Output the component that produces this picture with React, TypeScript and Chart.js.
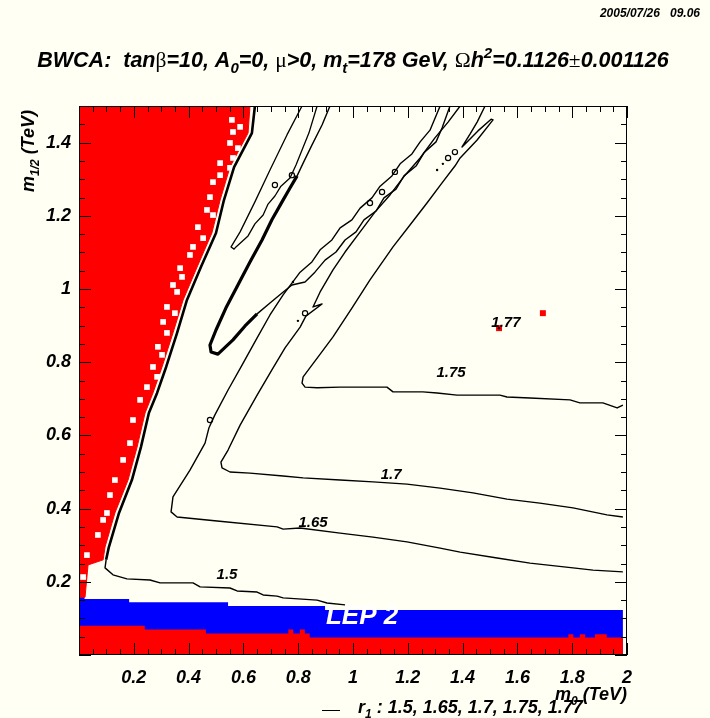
import { useEffect, useRef } from 'react';
import { Chart, registerables } from 'chart.js';

Chart.register(...registerables);

const PAPER = '#fffff3';
const RED = '#ff0000';
const BLUE = '#0000ff';
const INK = '#000000';
const SANS = '"Liberation Sans", Arial, Helvetica, sans-serif';
const SERIF = '"Liberation Serif", "Times New Roman", serif';

// Axis ranges (TeV)
const M0_RANGE = [0, 2];
const M12_RANGE = [0, 1.5];
const LABEL_STEP = 0.2;
const MINOR_STEP = 0.05;

// Excluded upper-left wedge (charged LSP): right edge of the region
const WEDGE_X = [0, 0.022, 0.033, 0.088, 0.095, 0.131, 0.179, 0.212, 0.241, 0.270, 0.303, 0.343, 0.380, 0.431, 0.485, 0.515, 0.551, 0.617, 0.624];
const WEDGE_Y = [0.158, 0.158, 0.246, 0.260, 0.295, 0.388, 0.478, 0.568, 0.661, 0.716, 0.787, 0.880, 0.970, 1.060, 1.153, 1.243, 1.333, 1.426, 1.5];

// Unfilled cells inside the wedge
const HOLE_X = [0.558, 0.588, 0.562, 0.551, 0.580, 0.562, 0.515, 0.551, 0.515, 0.489, 0.478, 0.467, 0.489, 0.434, 0.453, 0.416, 0.405, 0.369, 0.376, 0.343, 0.358, 0.321, 0.350, 0.307, 0.321, 0.288, 0.303, 0.270, 0.285, 0.248, 0.223, 0.197, 0.186, 0.161, 0.131, 0.113, 0.102, 0.088, 0.069, 0.029, 0.015];
const HOLE_Y = [1.462, 1.443, 1.429, 1.399, 1.385, 1.358, 1.344, 1.331, 1.311, 1.292, 1.251, 1.216, 1.202, 1.169, 1.139, 1.115, 1.093, 1.057, 1.033, 1.011, 0.992, 0.951, 0.934, 0.910, 0.880, 0.842, 0.820, 0.787, 0.760, 0.732, 0.697, 0.642, 0.579, 0.533, 0.478, 0.437, 0.388, 0.369, 0.328, 0.273, 0.213];

// Low-m1/2 strip excluded (red) – top edge, stepwise
const STRIP_X = [0, 0.24, 0.463, 0.764, 0.782, 0.806, 0.824, 0.842, 1.786, 1.804, 1.828, 1.847, 1.883, 1.926, 1.962, 1.985];
const STRIP_Y = [0.088, 0.080, 0.070, 0.059, 0.070, 0.059, 0.070, 0.059, 0.048, 0.057, 0.048, 0.057, 0.048, 0.057, 0.048, 0.048];

// LEP 2 exclusion (blue) – top edge, stepwise
const LEP_X = [0, 0.02, 0.183, 0.544, 0.898, 1.664, 1.985];
const LEP_Y = [0.142, 0.162, 0.153, 0.144, 0.134, 0.123, 0.123];

// r1 = 1.5 contour: along the wedge edge, then the low branch
const R150_EDGE_X = [0.642, 0.631, 0.566, 0.529, 0.500, 0.445, 0.394, 0.358, 0.318, 0.285, 0.255, 0.226, 0.193, 0.146, 0.109, 0.099];
const R150_EDGE_Y = [1.5, 1.426, 1.333, 1.243, 1.153, 1.060, 0.970, 0.880, 0.787, 0.716, 0.661, 0.568, 0.478, 0.388, 0.295, 0.260];
const R150_LOW_X = [0.099, 0.095, 0.124, 0.175, 0.259, 0.296, 0.416, 0.442, 0.551, 0.577, 0.650, 0.672, 0.723, 0.745, 0.869, 0.905, 0.971];
const R150_LOW_Y = [0.260, 0.238, 0.219, 0.208, 0.205, 0.197, 0.197, 0.186, 0.183, 0.175, 0.172, 0.164, 0.161, 0.156, 0.150, 0.142, 0.137];

// r1 = 1.65
const R165_X = [1.985, 1.876, 1.803, 1.646, 1.526, 1.391, 1.318, 1.197, 1.073, 0.953, 0.807, 0.745, 0.723, 0.504, 0.358, 0.336, 0.343, 0.405, 0.460, 0.474, 0.496, 0.544, 0.595, 0.646, 0.697, 0.745, 0.777, 0.807, 0.850, 0.880, 0.923, 0.953, 0.996, 1.026, 1.069, 1.099, 1.142, 1.172, 1.215, 1.245, 1.281, 1.318];
const R165_Y = [0.227, 0.232, 0.238, 0.251, 0.265, 0.281, 0.292, 0.309, 0.322, 0.333, 0.347, 0.344, 0.350, 0.366, 0.377, 0.391, 0.432, 0.505, 0.579, 0.620, 0.656, 0.724, 0.792, 0.861, 0.929, 0.984, 1.016, 1.046, 1.074, 1.107, 1.134, 1.167, 1.189, 1.221, 1.249, 1.281, 1.309, 1.342, 1.369, 1.402, 1.434, 1.5];

// Narrow band between the wedge and the 1.65 arm
const BAND_TOP_X = [0.916, 0.887, 0.850, 0.818, 0.796];
const BAND_TOP_Y = [1.5, 1.448, 1.393, 1.344, 1.309];
const BAND_X = [0.796, 0.770, 0.741, 0.704, 0.668, 0.624, 0.580, 0.536, 0.500, 0.478, 0.482, 0.507, 0.562, 0.606, 0.650];
const BAND_Y = [1.309, 1.276, 1.238, 1.189, 1.134, 1.074, 1.011, 0.948, 0.888, 0.847, 0.828, 0.822, 0.861, 0.899, 0.932];
const BAND_RIGHT_X = [0.650, 0.697, 0.741, 0.777, 0.825, 0.861, 0.898, 0.938, 0.971, 1.011, 1.040, 1.084, 1.113, 1.157, 1.186, 1.230, 1.259, 1.303, 1.325, 1.354];
const BAND_RIGHT_Y = [0.932, 0.962, 0.989, 1.011, 1.019, 1.046, 1.079, 1.101, 1.134, 1.156, 1.189, 1.213, 1.249, 1.273, 1.309, 1.336, 1.372, 1.402, 1.440, 1.5];

// Thin tongue next to the wedge
const TONGUE_X = [0.814, 0.759, 0.697, 0.642, 0.588, 0.555, 0.566, 0.573, 0.617, 0.642, 0.672, 0.690, 0.715, 0.737, 0.770, 0.792, 0.814, 0.839, 0.869];
const TONGUE_Y = [1.5, 1.421, 1.325, 1.238, 1.156, 1.115, 1.109, 1.115, 1.145, 1.178, 1.202, 1.232, 1.254, 1.281, 1.303, 1.339, 1.380, 1.426, 1.5];

// r1 = 1.7
const R170_X = [1.985, 1.927, 1.803, 1.682, 1.562, 1.438, 1.318, 1.197, 1.073, 0.953, 0.818, 0.745, 0.624, 0.551, 0.522, 0.518, 0.544, 0.588, 0.650, 0.704, 0.752, 0.807, 0.828, 0.887, 0.854, 0.880, 0.927, 0.971, 1.026, 1.080, 1.135, 1.190, 1.245, 1.299, 1.347, 1.391];
const R170_Y = [0.377, 0.383, 0.402, 0.415, 0.426, 0.443, 0.456, 0.467, 0.473, 0.478, 0.484, 0.489, 0.497, 0.500, 0.511, 0.527, 0.560, 0.628, 0.710, 0.779, 0.839, 0.896, 0.926, 0.959, 0.951, 0.992, 1.052, 1.101, 1.156, 1.210, 1.257, 1.311, 1.358, 1.413, 1.456, 1.5];

// r1 = 1.75
const R175_X = [1.985, 1.964, 1.912, 1.828, 1.792, 1.646, 1.562, 1.536, 1.380, 1.307, 1.255, 1.146, 1.124, 0.953, 0.869, 0.825, 0.814, 0.818, 0.872, 0.927, 0.996, 1.062, 1.146, 1.208, 1.270, 1.325, 1.372, 1.391, 1.453, 1.511, 1.504, 1.456, 1.409, 1.398, 1.427, 1.453, 1.482];
const R175_Y = [0.683, 0.675, 0.689, 0.689, 0.697, 0.702, 0.705, 0.710, 0.710, 0.716, 0.719, 0.719, 0.732, 0.732, 0.730, 0.732, 0.743, 0.760, 0.814, 0.869, 0.948, 1.025, 1.115, 1.175, 1.235, 1.290, 1.336, 1.358, 1.407, 1.462, 1.464, 1.432, 1.396, 1.388, 1.423, 1.456, 1.5];

// Small closed islands and isolated points of the contours
const LOOP_X = [0.478, 0.825, 0.715, 0.777, 1.062, 1.106, 1.153, 1.372, 1.347];
const LOOP_Y = [0.642, 0.934, 1.284, 1.311, 1.235, 1.265, 1.320, 1.374, 1.358];
const DOT_X = [0.799, 0.781, 1.328, 1.307, 1.533];
const DOT_Y = [0.913, 1.019, 1.342, 1.325, 0.893];

// Points reaching r1 = 1.77
const R177_X = [1.533, 1.693];
const R177_Y = [0.893, 0.934];

// Contour level labels
const LEVELS = ['1.5', '1.65', '1.7', '1.75', '1.77'];
const LEVEL_LABEL_X = [0.540, 0.854, 1.139, 1.358, 1.558];
const LEVEL_LABEL_Y = [0.220, 0.361, 0.492, 0.770, 0.907];

const LEP_LABEL = 'LEP 2';
const LEP_LABEL_AT = [1.033, 0.104];
const STAMP = '2005/07/26   09.06';

type Seg = { t: string; k?: 'sub' | 'sup' | 'sym' };

const TITLE: Seg[] = [
  { t: 'BWCA:  tan' }, { t: 'β', k: 'sym' }, { t: '=10, A' }, { t: '0', k: 'sub' }, { t: '=0, ' },
  { t: 'μ', k: 'sym' }, { t: '>0, m' }, { t: 't', k: 'sub' }, { t: '=178 GeV, ' }, { t: 'Ω', k: 'sym' },
  { t: 'h' }, { t: '2', k: 'sup' }, { t: '=0.1126' }, { t: '±', k: 'sym' }, { t: '0.001126' },
];
const Y_TITLE: Seg[] = [{ t: 'm' }, { t: '1/2', k: 'sub' }, { t: ' (TeV)' }];
const X_TITLE: Seg[] = [{ t: 'm' }, { t: '0', k: 'sub' }, { t: ' (TeV)' }];
const LEGEND: Seg[] = [{ t: 'r' }, { t: '1', k: 'sub' }, { t: ' : ' + LEVELS.join(', ') }];

const pts = (xs: number[], ys: number[]) => xs.map((x, i) => ({ x, y: ys[i] }));

function segFont(k: Seg['k'], size: number) {
  if (k === 'sym') return `${size}px ${SERIF}`;
  if (k === 'sub' || k === 'sup') return `italic bold ${Math.round(size * 0.68)}px ${SANS}`;
  return `italic bold ${size}px ${SANS}`;
}

function drawRich(ctx: CanvasRenderingContext2D, segs: Seg[], x: number, y: number, size: number, align: 'left' | 'center' | 'right') {
  ctx.save();
  ctx.textBaseline = 'alphabetic';
  ctx.textAlign = 'left';
  ctx.fillStyle = INK;
  const widths = segs.map((s) => {
    ctx.font = segFont(s.k, size);
    return ctx.measureText(s.t).width;
  });
  const total = widths.reduce((a, b) => a + b, 0);
  let cx = align === 'center' ? x - total / 2 : align === 'right' ? x - total : x;
  segs.forEach((s, i) => {
    ctx.font = segFont(s.k, size);
    const dy = s.k === 'sub' ? size * 0.3 : s.k === 'sup' ? -size * 0.42 : 0;
    ctx.fillText(s.t, cx, y + dy);
    cx += widths[i];
  });
  ctx.restore();
}

const contour = (xs: number[], ys: number[], width: number, order = 10) => ({
  data: pts(xs, ys),
  borderColor: INK,
  borderWidth: width,
  borderJoinStyle: 'round' as const,
  pointRadius: 0,
  tension: 0,
  fill: false,
  order,
});

const decor = {
  id: 'decor',
  beforeDraw(chart: any) {
    const { ctx, width, height } = chart;
    ctx.save();
    ctx.fillStyle = PAPER;
    ctx.fillRect(0, 0, width, height);
    ctx.restore();
  },
  afterDatasetsDraw(chart: any) {
    const { ctx, chartArea: a, scales } = chart;
    const xs = scales.x;
    const ys = scales.y;

    ctx.save();
    ctx.fillStyle = '#ffffff';
    ctx.font = `italic bold 26px ${SANS}`;
    ctx.textAlign = 'center';
    ctx.textBaseline = 'middle';
    ctx.fillText(LEP_LABEL, xs.getPixelForValue(LEP_LABEL_AT[0]), ys.getPixelForValue(LEP_LABEL_AT[1]));

    ctx.fillStyle = INK;
    ctx.font = `italic bold 15px ${SANS}`;
    LEVELS.forEach((lv, i) => {
      ctx.fillText(lv, xs.getPixelForValue(LEVEL_LABEL_X[i]), ys.getPixelForValue(LEVEL_LABEL_Y[i]));
    });

    // frame
    ctx.strokeStyle = INK;
    ctx.lineWidth = 1;
    ctx.strokeRect(Math.round(a.left) + 0.5, Math.round(a.top) + 0.5, Math.round(a.width) - 1, Math.round(a.height) - 1);

    // inward ticks on all four sides
    ctx.beginPath();
    const nx = Math.round((M0_RANGE[1] - M0_RANGE[0]) / MINOR_STEP);
    const every = Math.round(LABEL_STEP / MINOR_STEP);
    for (let i = 0; i <= nx; i++) {
      const p = Math.round(xs.getPixelForValue(M0_RANGE[0] + i * MINOR_STEP)) + 0.5;
      const len = i % every === 0 ? 12 : 6;
      ctx.moveTo(p, a.bottom);
      ctx.lineTo(p, a.bottom - len);
      ctx.moveTo(p, a.top);
      ctx.lineTo(p, a.top + len);
    }
    const ny = Math.round((M12_RANGE[1] - M12_RANGE[0]) / MINOR_STEP);
    for (let i = 0; i <= ny; i++) {
      const p = Math.round(ys.getPixelForValue(M12_RANGE[0] + i * MINOR_STEP)) + 0.5;
      const len = i % every === 0 ? 12 : 6;
      ctx.moveTo(a.left, p);
      ctx.lineTo(a.left + len, p);
      ctx.moveTo(a.right, p);
      ctx.lineTo(a.right - len, p);
    }
    ctx.stroke();
    ctx.restore();
  },
  afterDraw(chart: any) {
    const { ctx } = chart;
    ctx.save();
    ctx.fillStyle = INK;
    ctx.font = `italic bold 12px ${SANS}`;
    ctx.textAlign = 'right';
    ctx.textBaseline = 'alphabetic';
    ctx.fillText(STAMP, 700, 17);
    ctx.restore();

    drawRich(ctx, TITLE, 353, 67, 21.5, 'center');
    drawRich(ctx, X_TITLE, 627, 700, 18, 'right');

    ctx.save();
    ctx.translate(34, 192);
    ctx.rotate(-Math.PI / 2);
    drawRich(ctx, Y_TITLE, 0, 0, 18, 'left');
    ctx.restore();

    ctx.save();
    ctx.strokeStyle = INK;
    ctx.lineWidth = 1;
    ctx.beginPath();
    ctx.moveTo(322, 710.5);
    ctx.lineTo(340, 710.5);
    ctx.stroke();
    ctx.restore();
    drawRich(ctx, LEGEND, 358, 713, 18, 'left');
  },
};

const tickLabel = (v: number | string) => {
  const n = Math.round(Number(v) * 1000) / 1000;
  if (n === 0) return '';
  const k = n / LABEL_STEP;
  if (Math.abs(k - Math.round(k)) > 1e-6) return '';
  return String(n);
};

export default function App() {
  const ref = useRef<HTMLCanvasElement>(null);

  useEffect(() => {
    const canvas = ref.current;
    if (!canvas) return;
    const tickFont = { family: SANS, size: 18, style: 'italic' as const, weight: 'bold' as const };
    const chart = new Chart(canvas, {
      type: 'line',
      data: {
        datasets: [
          {
            data: pts(LEP_X, LEP_Y),
            stepped: 'after',
            borderColor: 'rgba(0,0,0,0)',
            borderWidth: 0,
            backgroundColor: BLUE,
            pointRadius: 0,
            fill: 'origin',
            order: 20,
          },
          {
            data: pts(STRIP_X, STRIP_Y),
            stepped: 'after',
            borderColor: 'rgba(0,0,0,0)',
            borderWidth: 0,
            backgroundColor: RED,
            pointRadius: 0,
            fill: 'origin',
            order: 19,
          },
          {
            data: pts(WEDGE_X, WEDGE_Y),
            borderColor: RED,
            borderWidth: 1,
            backgroundColor: RED,
            pointRadius: 0,
            tension: 0,
            fill: { target: { value: M12_RANGE[1] } },
            order: 18,
          },
          {
            data: pts(HOLE_X, HOLE_Y),
            showLine: false,
            pointStyle: 'rect',
            pointRadius: 4,
            pointBackgroundColor: '#ffffff',
            pointBorderWidth: 0,
            borderColor: 'rgba(0,0,0,0)',
            order: 17,
          },
          contour(R150_EDGE_X, R150_EDGE_Y, 2.6),
          contour(R150_LOW_X, R150_LOW_Y, 1.4),
          contour(R165_X, R165_Y, 1.4),
          contour(BAND_TOP_X, BAND_TOP_Y, 1.4),
          contour(BAND_X, BAND_Y, 3.2),
          contour(BAND_RIGHT_X, BAND_RIGHT_Y, 1.4),
          contour(TONGUE_X, TONGUE_Y, 1.3),
          contour(R170_X, R170_Y, 1.4),
          contour(R175_X, R175_Y, 1.4),
          {
            data: pts(LOOP_X, LOOP_Y),
            showLine: false,
            pointStyle: 'circle',
            pointRadius: 2.6,
            pointBackgroundColor: 'rgba(0,0,0,0)',
            pointBorderColor: INK,
            pointBorderWidth: 1.2,
            order: 5,
          },
          {
            data: pts(R177_X, R177_Y),
            showLine: false,
            pointStyle: 'rect',
            pointRadius: 4.2,
            pointBackgroundColor: RED,
            pointBorderWidth: 0,
            order: 3,
          },
          {
            data: pts(DOT_X, DOT_Y),
            showLine: false,
            pointStyle: 'circle',
            pointRadius: 1.2,
            pointBackgroundColor: INK,
            pointBorderWidth: 0,
            order: 1,
          },
        ] as any,
      },
      options: {
        responsive: false,
        animation: false,
        events: [],
        layout: { padding: { left: 9, right: 83, top: 106, bottom: 23 } },
        plugins: {
          legend: { display: false },
          tooltip: { enabled: false },
          title: { display: false },
        },
        scales: {
          x: {
            type: 'linear',
            min: M0_RANGE[0],
            max: M0_RANGE[1],
            afterFit: (s: any) => {
              s.height = 40;
            },
            grid: { display: false, drawTicks: false },
            border: { display: false },
            ticks: {
              stepSize: LABEL_STEP,
              includeBounds: false,
              autoSkip: false,
              maxRotation: 0,
              padding: 12,
              color: INK,
              font: tickFont,
              callback: tickLabel,
            },
          },
          y: {
            type: 'linear',
            min: M12_RANGE[0],
            max: M12_RANGE[1],
            afterFit: (s: any) => {
              s.width = 70;
            },
            grid: { display: false, drawTicks: false },
            border: { display: false },
            ticks: {
              stepSize: LABEL_STEP,
              includeBounds: false,
              autoSkip: false,
              padding: 8,
              color: INK,
              font: tickFont,
              callback: tickLabel,
            },
          },
        },
      } as any,
      plugins: [decor],
    });
    return () => chart.destroy();
  }, []);

  return (
    <div style={{ position: 'fixed', left: 0, top: 0, width: 710, height: 718, background: PAPER }}>
      <canvas ref={ref} width={710} height={718} style={{ display: 'block', width: 710, height: 718 }} />
    </div>
  );
}
